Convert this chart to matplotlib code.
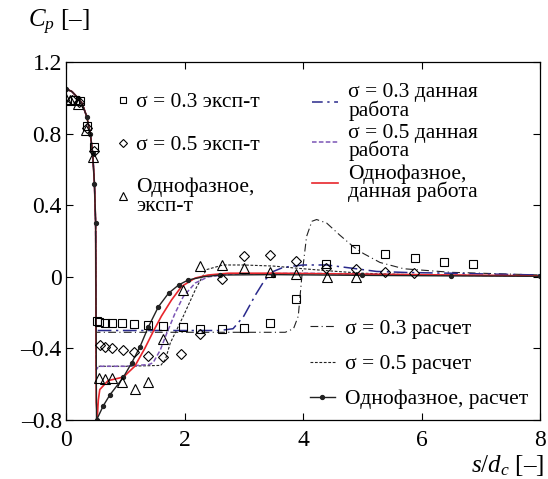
import matplotlib
matplotlib.use("Agg")
import matplotlib.pyplot as plt
from matplotlib.lines import Line2D

plt.rcParams['font.family'] = ['Liberation Serif', 'DejaVu Serif']
plt.rcParams['mathtext.fontset'] = 'custom'
plt.rcParams['mathtext.it'] = 'Liberation Serif:italic'
plt.rcParams['mathtext.rm'] = 'Liberation Serif'

# ---- data ----
front_s = [0.0, 0.1, 0.2, 0.27, 0.35, 0.41, 0.45, 0.48, 0.5]
front_cp = [1.05, 1.035, 1.0, 0.97, 0.895, 0.80, 0.69, 0.52, 0.30]

# experiment, sigma = 0.3
exp03_s = [0.16, 0.24, 0.35, 0.48, 0.52, 0.56, 0.66, 0.77, 0.95, 1.14, 1.39, 1.63, 1.97, 2.27,
           2.64, 3.01, 3.44, 3.89, 4.39, 4.88, 5.38, 5.89, 6.38, 6.87]
exp03_cp = [0.988, 0.98, 0.84, 0.727, -0.245, -0.251, -0.256, -0.26, -0.26, -0.264, -0.27, -0.275,
            -0.28, -0.29, -0.29, -0.285, -0.26, -0.126, 0.07, 0.154, 0.13, 0.103, 0.084, 0.07]
# experiment, sigma = 0.5
exp05_s = [0.1, 0.22, 0.36, 0.47, 0.57, 0.66, 0.77, 0.97, 1.14, 1.39, 1.63, 1.94, 2.27, 2.64,
           3.01, 3.44, 3.89, 4.39, 4.89, 5.38, 5.88]
exp05_cp = [0.99, 0.975, 0.83, 0.70, -0.381, -0.39, -0.40, -0.409, -0.418, -0.44, -0.446, -0.43,
            -0.32, -0.01, 0.116, 0.122, 0.088, 0.05, 0.043, 0.029, 0.024]
# experiment, single phase
exp1_s = [0.0, 0.07, 0.2, 0.34, 0.45, 0.56, 0.66, 0.77, 0.95, 1.16, 1.39, 1.64, 1.97, 2.26, 2.64,
          3.01, 3.44, 3.89, 4.4, 4.9]
exp1_cp = [0.993, 0.99, 0.965, 0.82, 0.67, -0.567, -0.573, -0.567, -0.586, -0.628, -0.586, -0.35,
           -0.074, 0.062, 0.066, 0.048, 0.029, 0.016, -0.003, 0.0]

# present work
pw03_s = front_s + [0.51, 1.0, 2.0, 2.6, 2.82, 3.0, 3.2, 3.35, 3.5, 3.67, 4.0, 4.4, 4.85, 5.24,
                    5.75, 6.5, 7.2, 8.0]
pw03_cp = front_cp + [-0.30, -0.30, -0.30, -0.30, -0.29, -0.22, -0.10, -0.02, 0.03, 0.053, 0.066,
                      0.066, 0.047, 0.03, 0.024, 0.02, 0.015, 0.01]
pw05_s = front_s + [0.51, 0.55, 1.0, 1.4, 1.47, 1.59, 1.7, 1.84, 1.98, 2.18, 2.4, 2.8, 4.0, 5.0,
                    6.0, 8.0]
pw05_cp = front_cp + [-0.52, -0.50, -0.50, -0.49, -0.48, -0.41, -0.316, -0.204, -0.11, -0.035,
                      0.0, 0.015, 0.02, 0.015, 0.01, 0.005]
pw1_s = front_s + [0.51, 0.53, 0.545, 0.57, 0.71, 0.97, 1.16, 1.33, 1.47, 1.61, 1.78, 1.95, 2.18,
                   2.4, 2.74, 3.5, 5.0, 8.0]
pw1_cp = front_cp + [-0.70, -0.78, -0.69, -0.63, -0.58, -0.56, -0.50, -0.40, -0.307, -0.22, -0.13,
                     -0.054, -0.007, 0.01, 0.02, 0.02, 0.015, 0.005]

# calculation
calc03_s = front_s + [0.51, 3.0, 3.7, 3.84, 3.92, 3.98, 4.06, 4.15, 4.23, 4.4, 4.62, 4.85, 5.02,
                      5.3, 5.7, 6.5, 8.0]
calc03_cp = front_cp + [-0.31, -0.31, -0.31, -0.29, -0.22, 0.0, 0.225, 0.31, 0.32, 0.30, 0.233,
                        0.168, 0.13, 0.08, 0.045, 0.025, 0.01]
calc05_s = front_s + [0.51, 1.0, 1.6, 1.68, 1.76, 1.98, 2.2, 2.37, 2.65, 3.0, 3.5, 4.0, 4.57, 5.0,
                      6.0, 8.0]
calc05_cp = front_cp + [-0.50, -0.50, -0.495, -0.46, -0.37, -0.22, -0.06, 0.04, 0.066, 0.066, 0.06,
                        0.045, 0.03, 0.02, 0.01, 0.005]
calc1_s = front_s + [0.515, 0.53, 0.63, 0.74, 0.88, 0.97, 1.11, 1.25, 1.39, 1.56, 1.73, 1.9, 2.06,
                     2.32, 2.6, 3.5, 5.0, 6.5, 8.0]
calc1_cp = front_cp + [-0.80, -0.79, -0.72, -0.66, -0.60, -0.56, -0.48, -0.39, -0.28, -0.167,
                       -0.092, -0.046, -0.018, 0.0, 0.01, 0.012, 0.008, 0.005, 0.003]

labels_exp = ["σ = 0.3 эксп-т", "σ = 0.5 эксп-т", "Однофазное,\nэксп-т"]
labels_pw = ["σ = 0.3 данная\nработа", "σ = 0.5 данная\nработа", "Однофазное,\nданная работа"]
labels_calc = ["σ = 0.3 расчет", "σ = 0.5 расчет", "Однофазное, расчет"]

xticks = [0, 2, 4, 6, 8]
yticks = [-0.8, -0.4, 0, 0.4, 0.8, 1.2]
ytick_labels = ["–0.8", "–0.4", "0", "0.4", "0.8", "1.2"]

# ---- figure ----
fig = plt.figure(figsize=(5.48, 4.79), dpi=100)
ax = fig.add_axes([66 / 548, 59 / 479, 474 / 548, 358 / 479])

c_blue = '#2a2a8c'
c_purple = '#7b55b5'
c_red = '#e8262c'
c_blk = '#222222'

ax.plot(calc03_s, calc03_cp, color=c_blk, lw=0.8, ls=(0, (7, 3, 1, 3)))
ax.plot(calc05_s, calc05_cp, color=c_blk, lw=0.8, ls=(0, (2.5, 1.5)))
ax.plot(pw03_s, pw03_cp, color=c_blue, lw=1.1, ls=(0, (9, 3, 1.5, 3)))
ax.plot(pw05_s, pw05_cp, color=c_purple, lw=1.1, ls=(0, (3, 1.5)))
ax.plot(pw1_s, pw1_cp, color=c_red, lw=1.2)
ax.plot(calc1_s, calc1_cp, color=c_blk, lw=1.0, marker='o', ms=2.8, markevery=0.03)

mk = dict(ls='none', mfc='none', mec='black', mew=0.8)
ax.plot(exp03_s, exp03_cp, marker='s', ms=5.8, **mk)
ax.plot(exp05_s, exp05_cp, marker='D', ms=4.6, **mk)
ax.plot(exp1_s, exp1_cp, marker='^', ms=6.5, **mk)

ax.set_xlim(0, 8)
ax.set_ylim(-0.8, 1.2)
ax.set_xticks(xticks)
ax.set_yticks(yticks)
ax.set_yticklabels(ytick_labels)
ax.tick_params(direction='in', top=True, right=True, labelsize=17, length=5, width=0.8)
ax.tick_params(axis='x', pad=7)
ax.tick_params(axis='y', pad=3)
for sp in ax.spines.values():
    sp.set_linewidth(0.9)

FS = 15.5
leg_kw = dict(frameon=False, fontsize=FS, borderpad=0, borderaxespad=0)

h1 = [Line2D([], [], ls='none', marker='s', ms=4.8, mfc='none', mec='black', mew=0.8),
      Line2D([], [], ls='none', marker='D', ms=3.8, mfc='none', mec='black', mew=0.8),
      Line2D([], [], ls='none', marker='^', ms=5.2, mfc='none', mec='black', mew=0.8)]
leg1 = ax.legend(h1, labels_exp, loc='upper left', bbox_to_anchor=(0.1076, 0.915),
                 handlelength=0.6, handletextpad=0.3, labelspacing=1.05, **leg_kw)
for t in leg1.get_texts():
    t.set_linespacing(1.0)
ax.add_artist(leg1)

h2 = [Line2D([], [], color=c_blue, lw=1.1, ls=(0, (7, 3, 1.5, 3))),
      Line2D([], [], color=c_purple, lw=1.1, ls=(0, (3, 1.5))),
      Line2D([], [], color=c_red, lw=1.2)]
leg2 = ax.legend(h2, labels_pw, loc='upper left', bbox_to_anchor=(0.518, 0.94),
                 handlelength=1.25, handletextpad=0.45, labelspacing=0.15, **leg_kw)
for t in leg2.get_texts():
    t.set_linespacing(0.85)
ax.add_artist(leg2)

h3 = [Line2D([], [], color=c_blk, lw=0.8, ls=(0, (7, 3, 1, 3))),
      Line2D([], [], color=c_blk, lw=0.8, ls=(0, (2.5, 1.5))),
      Line2D([], [], color=c_blk, lw=1.0, marker='o', ms=2.8, markevery=[1])]
ax.legend(h3, labels_calc, loc='lower left', bbox_to_anchor=(0.515, 0.03),
          handlelength=1.15, handletextpad=0.45, labelspacing=0.7, **leg_kw)

fig.text(28 / 548, 1 - 22 / 479, r"$C_p$ [–]", fontsize=18, va='center', ha='left')
fig.text(544 / 548, 1 - 465 / 479, r"$s/d_c$ [–]", fontsize=18, va='center', ha='right')

fig.savefig("out.png", dpi=100)
